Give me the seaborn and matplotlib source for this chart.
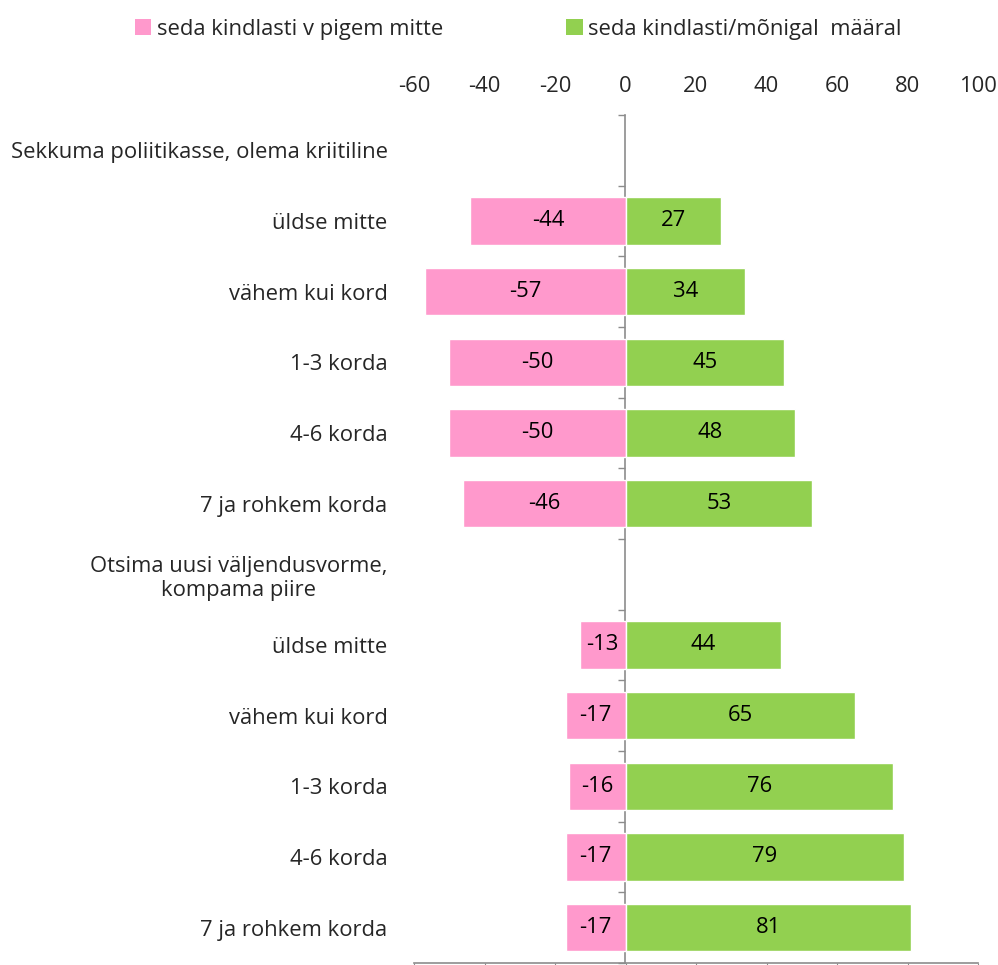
import numpy as np
import pandas as pd
import matplotlib
matplotlib.use("Agg")
import matplotlib.pyplot as plt
from matplotlib.patches import Patch
import seaborn as sns

# data
row_labels = [
    "Sekkuma poliitikasse, olema kriitiline",
    "üldse mitte", "vähem kui kord", "1-3 korda", "4-6 korda", "7 ja rohkem korda",
    "Otsima uusi väljendusvorme,\nkompama piire",
    "üldse mitte", "vähem kui kord", "1-3 korda", "4-6 korda", "7 ja rohkem korda",
]
neg_vals = [np.nan, -44, -57, -50, -50, -46, np.nan, -13, -17, -16, -17, -17]
pos_vals = [np.nan, 27, 34, 45, 48, 53, np.nan, 44, 65, 76, 79, 81]
series_names = ["seda kindlasti v pigem mitte", "seda kindlasti/mõnigal  määral"]
x_ticks = [-60, -40, -20, 0, 20, 40, 60, 80, 100]

pink = "#FF99CC"
green = "#92D050"
gray = "#8C8C8C"

sns.set_style("white")
plt.rcParams["font.family"] = ["Open Sans", "DejaVu Sans"]
fs = 15.8

keys = ["r%d" % i for i in range(len(row_labels))]
df = pd.DataFrame({"key": keys, "neg": neg_vals, "pos": pos_vals})

fig = plt.figure(figsize=(9.98, 9.65), dpi=100)
ax = fig.add_axes([414 / 998, 1 - 963 / 965, 564 / 998, 848 / 965])

d = df.dropna(subset=["neg"])
sns.barplot(data=d, x="neg", y="key", order=keys, orient="h", color=pink,
            saturation=1, width=0.67, errorbar=None, ax=ax)
d = df.dropna(subset=["pos"])
sns.barplot(data=d, x="pos", y="key", order=keys, orient="h", color=green,
            saturation=1, width=0.67, errorbar=None, ax=ax)

for cont in ax.containers:
    ax.bar_label(cont, fmt="%d", label_type="center", fontsize=fs, color="black")

ax.set_xlim(-60, 100)
ax.set_ylim(len(keys) - 0.5, -0.5)
ax.set_xticks(x_ticks)
ax.set_xticklabels([str(t) for t in x_ticks], fontsize=fs)
ax.tick_params(axis="x", bottom=True, top=False, labelbottom=False, labeltop=True,
               length=3, color=gray, pad=10)
ax.set_yticks(range(len(keys)))
ax.set_yticklabels(row_labels, fontsize=fs)
for lab in ax.get_yticklabels():
    lab.set_multialignment("center")
    lab.set_linespacing(1.2)
ax.tick_params(axis="y", length=0, pad=19)
ax.set_xlabel("")
ax.set_ylabel("")
for s in ["top", "right", "left"]:
    ax.spines[s].set_visible(False)
ax.spines["bottom"].set_color(gray)
ax.spines["bottom"].set_linewidth(1.2)

# vertical axis line at zero with ticks between categories
sec = ax.secondary_yaxis(60 / 160)
sec.set_yticks(np.arange(-0.5, len(keys), 1))
sec.tick_params(axis="y", labelleft=False, labelright=False, length=5, color=gray, width=1)
sec.spines["left"].set_color(gray)
sec.spines["left"].set_linewidth(1.2)

handles = [Patch(facecolor=pink, edgecolor="none"), Patch(facecolor=green, edgecolor="none")]
fig.legend(handles, series_names, loc="center left", bbox_to_anchor=(135 / 998, 1 - 29 / 965),
           ncol=2, frameon=False, fontsize=fs, handlelength=0.75, handleheight=0.75,
           handletextpad=0.25, columnspacing=5.6, borderaxespad=0, borderpad=0)

fig.savefig("out.png", dpi=100)
